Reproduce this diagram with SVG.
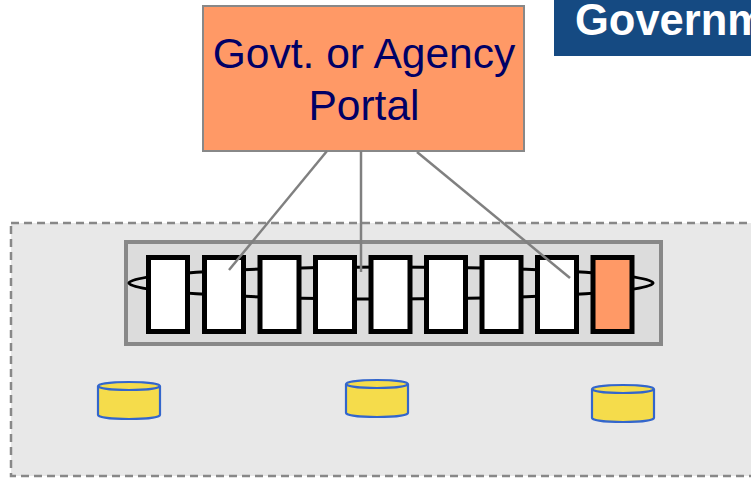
<svg xmlns="http://www.w3.org/2000/svg" width="751" height="478" viewBox="0 0 751 478">
<style>
.link{fill:#fff;stroke:#000;stroke-width:5}
.conn{stroke:#808080;stroke-width:2.5;fill:none}
.cyl{fill:#f5dc4b;stroke:#3366cc;stroke-width:2.2}
.lbl{font-family:"Liberation Sans",Arial,sans-serif;font-size:42.5px;fill:#000066;text-anchor:middle}
</style>
<defs>
<g id="cylinder">
<path class="cyl" d="M0,4 L0,33 A31,4 0 0 0 62,33 L62,4"/>
<ellipse class="cyl" cx="31" cy="4" rx="31" ry="4"/>
</g>
</defs>
<rect width="751" height="478" fill="#fff"/>
<g id="header">
<rect x="554" y="0" width="200" height="56" fill="#154a82"/>
<text x="575" y="35" font-family="'Liberation Sans',Arial,sans-serif" font-size="43.5" font-weight="bold" fill="#fff">Governm</text>
</g>
<g id="boundary">
<rect x="11" y="223" width="760" height="253" fill="#e8e8e8" stroke="#888" stroke-width="2.5" stroke-dasharray="8,5"/>
</g>
<g id="chain">
<rect x="126" y="242" width="535" height="102" fill="#dcdcdc" stroke="#888" stroke-width="4"/>
<ellipse cx="391" cy="283" rx="262" ry="16" fill="none" stroke="#000" stroke-width="3"/>
<rect class="link" x="148.5" y="257.5" width="39" height="74"/>
<rect class="link" x="204.5" y="257.5" width="39" height="74"/>
<rect class="link" x="260" y="257.5" width="39" height="74"/>
<rect class="link" x="315.5" y="257.5" width="39" height="74"/>
<rect class="link" x="371" y="257.5" width="39" height="74"/>
<rect class="link" x="426.5" y="257.5" width="39" height="74"/>
<rect class="link" x="482" y="257.5" width="39" height="74"/>
<rect class="link" x="537.5" y="257.5" width="39" height="74"/>
<rect class="link" x="593" y="257.5" width="39" height="74" style="fill:#ff9966"/>
</g>
<g id="portal">
<rect x="203" y="6" width="321" height="145" fill="#ff9966" stroke="#888" stroke-width="2"/>
<text class="lbl" x="364" y="68">Govt. or Agency</text>
<text class="lbl" x="364" y="120">Portal</text>
</g>
<g id="connectors">
<line class="conn" x1="327" y1="151" x2="229" y2="270"/>
<line class="conn" x1="361" y1="151" x2="361" y2="272"/>
<line class="conn" x1="417" y1="152" x2="570" y2="278"/>
</g>
<g id="db1"><use href="#cylinder" x="98" y="382"/></g>
<g id="db2"><use href="#cylinder" x="346" y="380"/></g>
<g id="db3"><use href="#cylinder" x="592" y="385"/></g>
</svg>
